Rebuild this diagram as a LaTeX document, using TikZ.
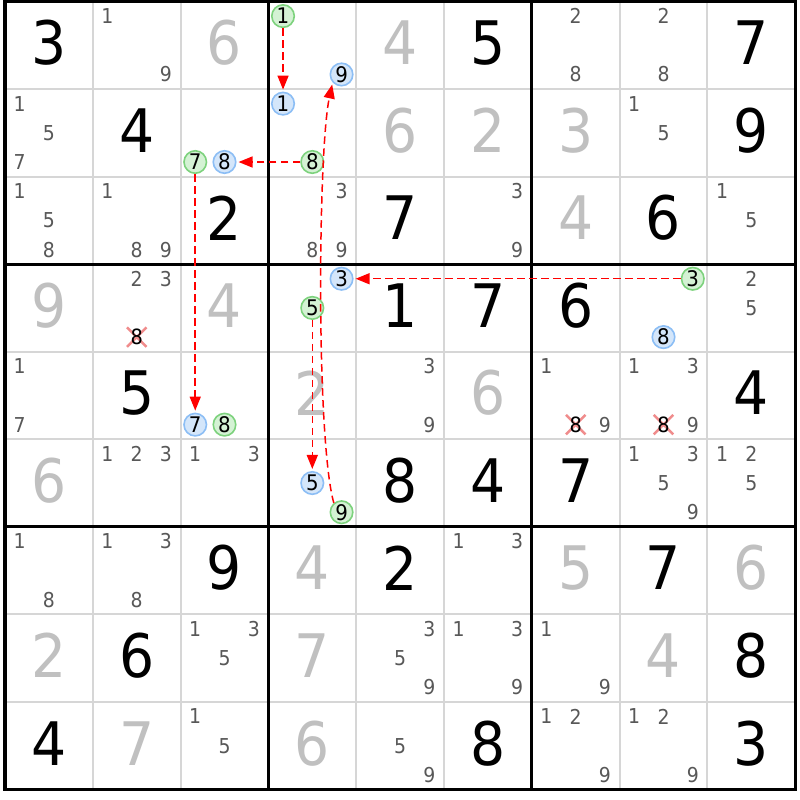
\documentclass[tikz,border=0pt]{standalone}
\usepackage{fontspec}
\setmainfont{DejaVu Sans}[FakeStretch=0.92]
\usetikzlibrary{arrows.meta,shapes.misc}
\definecolor{candgray}{RGB}{88,88,88}
\definecolor{solvedgray}{RGB}{192,192,192}
\definecolor{gridgray}{RGB}{214,214,214}
\definecolor{gfill}{RGB}{212,242,212}
\definecolor{gline}{RGB}{125,210,125}
\definecolor{bfill}{RGB}{212,230,250}
\definecolor{bline}{RGB}{140,190,245}
\definecolor{xred}{RGB}{240,140,140}
\definecolor{chainred}{RGB}{255,0,0}
\tikzset{
 givendigit/.style={inner sep=0pt, font=\fontsize{60}{61}\selectfont, text=black},
 solveddigit/.style={givendigit, text=solvedgray},
 cand/.style={inner sep=0pt, font=\fontsize{20.5}{21}\selectfont, text=candgray},
 hlg/.style={circle, draw=gline, fill=gfill, line width=1.6pt, minimum size=22.5pt, inner sep=0pt, font=\fontsize{21.5}{22}\selectfont, text=black},
 hlb/.style={hlg, draw=bline, fill=bfill},
 elimtxt/.style={inner sep=0pt, font=\fontsize{21}{21}\selectfont, text=black},
 xmark/.style={cross out, draw=xred, line width=2.5pt, minimum size=17pt, inner sep=0pt},
 chain/.style={draw=chainred, line width=1.5pt, dash pattern=on 7.5pt off 4.5pt, -{Triangle[length=14pt,width=11pt]}, shorten >=2pt},
 thinline/.style={draw=gridgray, line width=2pt},
 thickline/.style={draw=black, line width=3.2pt},
}
\newcommand\candpos[3]{%
 \pgfmathsetmacro\px{5+(#2-1)*87.8+mod(#3-1,3)*29.267+14.633}%
 \pgfmathsetmacro\py{1.5+(#1-1)*87.55+floor((#3-1)/3)*29.183+14.592}}
\newcommand\GV[3]{\pgfmathsetmacro\px{5+(#2-0.5)*87.8}\pgfmathsetmacro\py{1.5+(#1-0.5)*87.55-2.5}\node[givendigit] (v#1#2) at (\px,\py) {#3};}
\newcommand\SV[3]{\pgfmathsetmacro\px{5+(#2-0.5)*87.8}\pgfmathsetmacro\py{1.5+(#1-0.5)*87.55-2.5}\node[solveddigit] (v#1#2) at (\px,\py) {#3};}
\newcommand\CDs[3]{\foreach \dd in {#3}{\candpos{#1}{#2}{\dd}\node[cand] (c#1#2\dd) at (\px,\py) {\dd};}}
\newcommand\HL[5]{\candpos{#2}{#3}{#4}\node[#1] (#5) at (\px,\py) {#4};}
\newcommand\EL[3]{\candpos{#1}{#2}{#3}\node[xmark] (x#1#2) at (\px,\py) {};\node[elimtxt] (e#1#2) at (\px,\py) {#3};}
\begin{document}
\begin{tikzpicture}[x=1pt,y=-1pt]
\useasboundingbox[fill=white] (0,0) rectangle (800,800);
% grid
\foreach \i in {1,2,4,5,7,8}{
 \draw[thinline] ({5+\i*87.8},1.5) -- ({5+\i*87.8},789.45);
 \draw[thinline] (5,{1.5+\i*87.55}) -- (795.2,{1.5+\i*87.55});
}
\foreach \i in {3,6}{
 \draw[thickline] ({5+\i*87.8},1.5) -- ({5+\i*87.8},789.45);
 \draw[thickline] (5,{1.5+\i*87.55}) -- (795.2,{1.5+\i*87.55});
}
\draw[thickline] (5,1.5) rectangle (795.2,789.45);
% row 1
\GV{1}{1}{3} \CDs{1}{2}{1,9} \SV{1}{3}{6}
\HL{hlg}{1}{4}{1}{g1} \HL{hlb}{1}{4}{9}{b9}
\SV{1}{5}{4} \GV{1}{6}{5} \CDs{1}{7}{2,8} \CDs{1}{8}{2,8} \GV{1}{9}{7}
% row 2
\CDs{2}{1}{1,5,7} \GV{2}{2}{4}
\HL{hlg}{2}{3}{7}{g7} \HL{hlb}{2}{3}{8}{b8a}
\HL{hlb}{2}{4}{1}{b1} \HL{hlg}{2}{4}{8}{g8a}
\SV{2}{5}{6} \SV{2}{6}{2} \SV{2}{7}{3} \CDs{2}{8}{1,5} \GV{2}{9}{9}
% row 3
\CDs{3}{1}{1,5,8} \CDs{3}{2}{1,8,9} \GV{3}{3}{2} \CDs{3}{4}{3,8,9} \GV{3}{5}{7}
\CDs{3}{6}{3,9} \SV{3}{7}{4} \GV{3}{8}{6} \CDs{3}{9}{1,5}
% row 4
\SV{4}{1}{9} \CDs{4}{2}{2,3} \EL{4}{2}{8} \SV{4}{3}{4}
\HL{hlb}{4}{4}{3}{b3} \HL{hlg}{4}{4}{5}{g5}
\GV{4}{5}{1} \GV{4}{6}{7} \GV{4}{7}{6}
\HL{hlg}{4}{8}{3}{g3} \HL{hlb}{4}{8}{8}{b8b}
\CDs{4}{9}{2,5}
% row 5
\CDs{5}{1}{1,7} \GV{5}{2}{5}
\HL{hlb}{5}{3}{7}{b7} \HL{hlg}{5}{3}{8}{g8b}
\SV{5}{4}{2} \CDs{5}{5}{3,9} \SV{5}{6}{6}
\CDs{5}{7}{1,9} \EL{5}{7}{8} \CDs{5}{8}{1,3,9} \EL{5}{8}{8} \GV{5}{9}{4}
% row 6
\SV{6}{1}{6} \CDs{6}{2}{1,2,3} \CDs{6}{3}{1,3}
\HL{hlb}{6}{4}{5}{b5} \HL{hlg}{6}{4}{9}{g9}
\GV{6}{5}{8} \GV{6}{6}{4} \GV{6}{7}{7} \CDs{6}{8}{1,3,5,9} \CDs{6}{9}{1,2,5}
% row 7
\CDs{7}{1}{1,8} \CDs{7}{2}{1,3,8} \GV{7}{3}{9} \SV{7}{4}{4} \GV{7}{5}{2}
\CDs{7}{6}{1,3} \SV{7}{7}{5} \GV{7}{8}{7} \SV{7}{9}{6}
% row 8
\SV{8}{1}{2} \GV{8}{2}{6} \CDs{8}{3}{1,3,5} \SV{8}{4}{7} \CDs{8}{5}{3,5,9}
\CDs{8}{6}{1,3,9} \CDs{8}{7}{1,9} \SV{8}{8}{4} \GV{8}{9}{8}
% row 9
\GV{9}{1}{4} \SV{9}{2}{7} \CDs{9}{3}{1,5} \SV{9}{4}{6} \CDs{9}{5}{5,9}
\GV{9}{6}{8} \CDs{9}{7}{1,2,9} \CDs{9}{8}{1,2,9} \GV{9}{9}{3}
% chain
\draw[chain] (g1) -- (b1);
\draw[chain] (g8a) -- (b8a);
\draw[chain] (g7) -- (b7);
\draw[chain] (g3) -- (b3);
\draw[chain] (g5) -- (b5);
\draw[chain] (g9.130) .. controls (316,440) and (318,150) .. (b9.222);
\end{tikzpicture}
\end{document}
